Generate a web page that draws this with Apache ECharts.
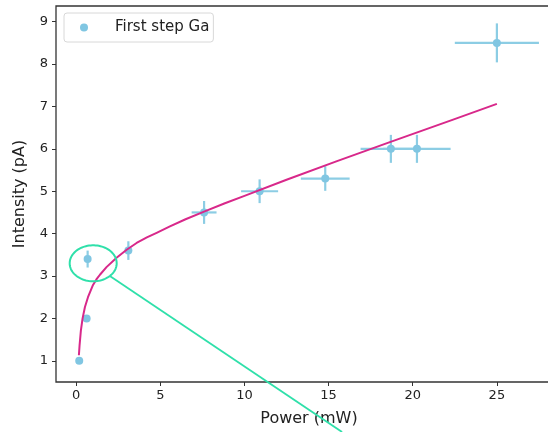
<!DOCTYPE html>
<html>
<head>
<meta charset="utf-8">
<script src="https://cdn.jsdelivr.net/npm/echarts@6/dist/echarts.min.js"></script>
<style>html,body{margin:0;padding:0;background:#fff;}#c{width:548px;height:432px;}</style>
</head>
<body>
<div id="c"></div>
<script>
// Measured points: power (mW), intensity (pA), x error, y error
const powerX = [0.18, 0.62, 0.68, 3.1, 7.6, 10.9, 14.8, 18.7, 20.25, 25.0];
const intensityY = [1.0, 2.0, 3.4, 3.6, 4.5, 5.0, 5.3, 6.0, 6.0, 8.5];
const xErr = [0.0, 0.1, 0.05, 0.2, 0.74, 1.1, 1.45, 1.8, 2.0, 2.5];
const yErr = [0.0, 0.08, 0.2, 0.22, 0.27, 0.28, 0.29, 0.33, 0.33, 0.46];

// Fit curve
const fitX = [0.16, 0.2, 0.28, 0.38, 0.52, 0.7, 1.0, 1.2, 1.41, 1.8, 2.4, 3.0, 3.59, 4.2, 4.78, 5.57, 6.5, 7.6, 8.8, 10.0, 12.5, 15.5, 18.64, 22.4, 25.0];
const fitY = [1.13, 1.36, 1.72, 2.0, 2.27, 2.5, 2.79, 2.92, 3.03, 3.21, 3.43, 3.62, 3.78, 3.91, 4.02, 4.17, 4.34, 4.52, 4.71, 4.89, 5.27, 5.71, 6.16, 6.69, 7.06];

const xTicks = [0, 5, 10, 15, 20, 25];
const yTicks = [1, 2, 3, 4, 5, 6, 7, 8, 9];

// Annotation (data coordinates)
const ellipseCenter = [1.01, 3.30];
const leaderStart = [2.0, 3.0];
const leaderEnd = [15.8, -0.68];

const pointColor = '#80c6e2';
const barColor = '#8ccde4';
const fitColor = '#d8288a';
const noteColor = '#2fe0aa';
const font = 'DejaVu Sans';

const chart = echarts.init(document.getElementById('c'), null, {renderer: 'canvas'});

const pts = powerX.map((x, i) => [x, intensityY[i]]);
const errData = powerX.map((x, i) => [x, intensityY[i], xErr[i], yErr[i]]);
const fitData = fitX.map((x, i) => [x, fitY[i]]);

chart.setOption({
  animation: false,
  backgroundColor: '#fff',
  grid: {left: 56, top: 6, width: 506, bottom: 50, outerBoundsMode: 'none', containLabel: false,
         show: true, borderColor: '#333', borderWidth: 1.3, backgroundColor: 'transparent'},
  legend: {
    data: [{name: 'First step Ga', icon: 'circle'}],
    left: 64, top: 13,
    itemWidth: 8, itemHeight: 8, itemGap: 0,
    padding: [7, 4, 7, 16],
    borderColor: '#d8d8d8', borderWidth: 1, borderRadius: 3,
    backgroundColor: '#fff',
    textStyle: {fontFamily: font, fontSize: 15, color: '#222', padding: [0, 0, 0, 22]}
  },
  xAxis: {
    type: 'value', min: -1.2, max: 28.87,
    name: 'Power (mW)', nameLocation: 'middle', nameGap: 29,
    nameTextStyle: {fontFamily: font, fontSize: 16, color: '#222'},
    axisLine: {show: false, onZero: false},
    splitLine: {show: false},
    axisTick: {show: true, length: 4, customValues: xTicks, lineStyle: {color: '#333'}},
    axisLabel: {customValues: xTicks, fontFamily: font, fontSize: 13, color: '#222', margin: 7}
  },
  yAxis: {
    type: 'value', min: 0.5, max: 9.37,
    name: 'Intensity (pA)', nameLocation: 'middle', nameGap: 28,
    nameTextStyle: {fontFamily: font, fontSize: 16, color: '#222'},
    axisLine: {show: false, onZero: false},
    splitLine: {show: false},
    axisTick: {show: true, length: 4, customValues: yTicks, lineStyle: {color: '#333'}},
    axisLabel: {customValues: yTicks, fontFamily: font, fontSize: 13, color: '#222', margin: 8}
  },
  series: [
    {
      type: 'custom', name: 'err', z: 2, silent: true,
      data: errData,
      renderItem: function (params, api) {
        const x = api.value(0), y = api.value(1), dx = api.value(2), dy = api.value(3);
        const l = api.coord([x - dx, y]), r = api.coord([x + dx, y]);
        const t = api.coord([x, y + dy]), b = api.coord([x, y - dy]);
        const st = {stroke: barColor, lineWidth: 2.2};
        return {type: 'group', children: [
          {type: 'line', shape: {x1: l[0], y1: l[1], x2: r[0], y2: r[1]}, style: st},
          {type: 'line', shape: {x1: t[0], y1: t[1], x2: b[0], y2: b[1]}, style: st}
        ]};
      }
    },
    {
      type: 'scatter', name: 'First step Ga', z: 3,
      data: pts, symbolSize: 8,
      itemStyle: {color: pointColor, opacity: 1}
    },
    {
      type: 'line', name: 'fit', z: 4,
      data: fitData, showSymbol: false, smooth: false,
      lineStyle: {color: fitColor, width: 2, join: 'round'},
      itemStyle: {color: fitColor}
    }
  ]
});

// Annotation ellipse and leader line in pixel space derived from data coords
const c = chart.convertToPixel({gridIndex: 0}, ellipseCenter);
const rx = 23.5, ry = 18;
const poly = [];
for (let k = 0; k < 90; k++) {
  const a = k / 90 * Math.PI * 2;
  poly.push([c[0] + rx * Math.cos(a), c[1] + ry * Math.sin(a)]);
}
const p1 = chart.convertToPixel({gridIndex: 0}, leaderStart);
const p2 = chart.convertToPixel({gridIndex: 0}, leaderEnd);
chart.setOption({
  graphic: [
    {type: 'polygon', z: 100, shape: {points: poly}, style: {fill: 'none', stroke: noteColor, lineWidth: 2}},
    {type: 'line', z: 100, shape: {x1: p1[0], y1: p1[1], x2: p2[0], y2: p2[1]}, style: {stroke: noteColor, lineWidth: 1.8}}
  ]
});
</script>
</body>
</html>
